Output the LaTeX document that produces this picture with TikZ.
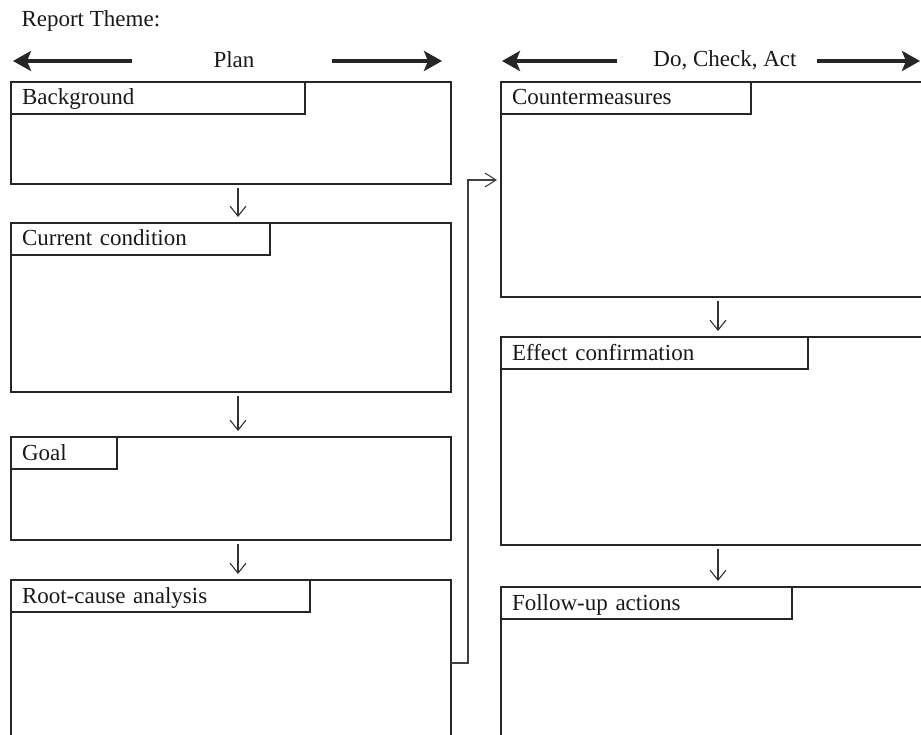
\documentclass[tikz,border=0pt]{standalone}
\usepackage{fontspec}
\setmainfont{Liberation Serif}
\usetikzlibrary{arrows.meta, positioning}

\begin{document}
\begin{tikzpicture}[
        x=1pt, y=-1pt,
        every node/.style={font=\fontsize{23}{27}\selectfont, text=black!90},
        panel/.style={draw=black!85, line width=1.4pt, minimum width=440pt, inner sep=0pt, outer sep=0pt},
        tab/.style={draw=black!85, line width=1.4pt, anchor=north west, minimum height=32pt, inner xsep=11pt, inner ysep=0pt, outer sep=0pt, text height=16pt, text depth=2pt, align=left},
        flow/.style={-{Straight Barb[length=10pt, width=16pt]}, line width=1.1pt, draw=black!80, shorten <=4pt, shorten >=6pt},
        feedback/.style={-{Straight Barb[length=11pt, width=14pt]}, line width=1.1pt, draw=black!75, shorten >=4pt},
        phase/.style={-{Stealth[length=18pt, width=20pt, inset=4pt]}, line width=4pt, draw=black!85}
    ]
        \useasboundingbox (0,0) rectangle (921,735);
        \clip (0,0) rectangle (921,735);

        \node[anchor=base west] (theme) at (18,27) {Report Theme:};

        % Phase headers
        \node[anchor=base] (plan) at (234,68) {Plan};
        \node[anchor=base] (dca) at (725,67) {Do, Check, Act};
        \coordinate (planA) at (132,61);
        \coordinate (planB) at (13,61);
        \coordinate (planC) at (332,61);
        \coordinate (planD) at (442,61);
        \coordinate (dcaA) at (617,61);
        \coordinate (dcaB) at (502,61);
        \coordinate (dcaC) at (817,61);
        \coordinate (dcaD) at (920,61);
        \draw[phase] (planA) -- (planB);
        \draw[phase] (planC) -- (planD);
        \draw[phase] (dcaA) -- (dcaB);
        \draw[phase] (dcaC) -- (dcaD);

        % Plan column
        \node[panel, anchor=north west, minimum height=102pt] (bg) at (11,82) {};
        \node[panel, minimum height=169pt, below=39pt of bg] (cur) {};
        \node[panel, minimum height=103pt, below=45pt of cur] (goal) {};
        \node[panel, minimum height=200pt, below=40pt of goal] (root) {};
        \node[tab, text width=272pt] (bgT) at (bg.north west) {Background};
        \node[tab, text width=237pt] (curT) at (cur.north west) {Current condition};
        \node[tab, text width=84pt] (goalT) at (goal.north west) {Goal};
        \node[tab, text width=277pt] (rootT) at (root.north west) {Root-cause analysis};

        % Do, Check, Act column
        \node[panel, anchor=north west, minimum height=215pt] (cm) at (501,82) {};
        \node[panel, minimum height=208pt, below=40pt of cm] (ef) {};
        \node[panel, minimum height=200pt, below=42pt of ef] (fu) {};
        \node[tab, text width=228pt] (cmT) at (cm.north west) {Countermeasures};
        \node[tab, text width=285pt] (efT) at (ef.north west) {Effect confirmation};
        \node[tab, text width=269pt] (fuT) at (fu.north west) {Follow-up actions};

        % Arrows
        \draw[flow] ([xshift=7pt]bg.south) -- ([xshift=7pt]cur.north);
        \draw[flow] ([xshift=7pt]cur.south) -- ([xshift=7pt]goal.north);
        \draw[flow] ([xshift=7pt]goal.south) -- ([xshift=7pt]root.north);
        \draw[flow] ([xshift=-3pt]cm.south) -- ([xshift=-3pt]ef.north);
        \draw[flow] ([xshift=-3pt]ef.south) -- ([xshift=-3pt]fu.north);
        \draw[feedback] ([yshift=-83pt]root.north east) -- ++(17,0) |- ([yshift=-98pt]cm.north west);

    \end{tikzpicture}
\end{document}
